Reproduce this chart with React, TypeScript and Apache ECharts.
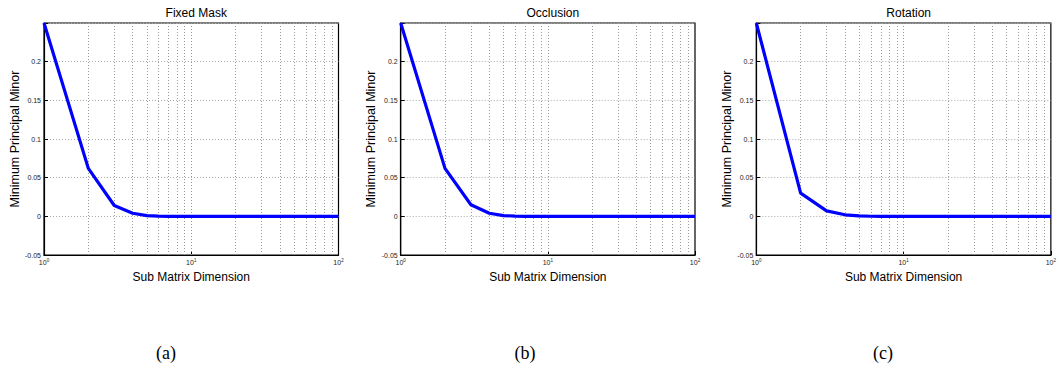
import React, { useEffect, useRef } from "react";
import * as echarts from "echarts";

const titles = ["Fixed Mask", "Occlusion", "Rotation"];
const captions = ["(a)", "(b)", "(c)"];
const xValues = [1, 2, 3, 4, 5, 6, 7, 8, 9, 10, 15, 20, 30, 40, 50, 60, 70, 80, 90, 100];
const fixedMask = [0.25, 0.062, 0.014, 0.004, 0.001, 0.0002, 0, 0, 0, 0, 0, 0, 0, 0, 0, 0, 0, 0, 0, 0];
const occlusion = [0.25, 0.062, 0.015, 0.004, 0.001, 0.0003, 0, 0, 0, 0, 0, 0, 0, 0, 0, 0, 0, 0, 0, 0];
const rotation = [0.25, 0.030, 0.007, 0.002, 0.0005, 0.0001, 0, 0, 0, 0, 0, 0, 0, 0, 0, 0, 0, 0, 0, 0];
const minorGridX = [2, 3, 4, 5, 6, 7, 8, 9, 10, 20, 30, 40, 50, 60, 70, 80, 90];
const yMin = -0.05;
const yMax = 0.25;
const yStep = 0.05;

const gridPos = [
  { left: 44, width: 294.5 },
  { left: 400.7, width: 294.3 },
  { left: 756.3, width: 294.7 },
];
const captionX = [166, 525, 883];

export default function App() {
  const ref = useRef<HTMLDivElement>(null);
  useEffect(() => {
    if (!ref.current) return;
    const chart = echarts.init(ref.current, undefined, { renderer: "svg" });
    const seriesData = [fixedMask, occlusion, rotation];
    const font = "'Liberation Sans', Arial, sans-serif";
    const option: any = {
      animation: false,
      backgroundColor: "#ffffff",
      title: titles.map((t, i) => ({
        text: t,
        left: gridPos[i].left + gridPos[i].width / 2,
        top: 2,
        textAlign: "center",
        textStyle: { fontFamily: font, fontSize: 12, fontWeight: "normal", color: "#000" },
      })),
      grid: gridPos.map((g) => ({
        left: g.left,
        width: g.width,
        top: 23,
        height: 232,
        show: true,
        borderColor: "#000",
        borderWidth: 1.2,
        backgroundColor: "transparent",
      })),
      xAxis: gridPos.map((_, i) => ({
        type: "log",
        logBase: 10,
        gridIndex: i,
        min: 1,
        max: 100,
        name: "Sub Matrix Dimension",
        nameLocation: "middle",
        nameGap: 8,
        nameTextStyle: { fontFamily: font, fontSize: 12, color: "#000" },
        axisLine: { show: true, onZero: false, lineStyle: { color: "#000", width: 1.2 } },
        axisTick: { show: true, inside: true, length: 4, lineStyle: { color: "#000" } },
        splitLine: { show: false },
        axisLabel: {
          margin: 3,
          formatter: (v: number) => `{b|10}{s|${Math.round(Math.log10(v))}}`,
          rich: {
            b: { fontFamily: font, fontSize: 7, color: "#222" },
            s: { fontFamily: font, fontSize: 4.5, color: "#222", verticalAlign: "top", padding: [0, 0, 4, 0] },
          },
        },
      })),
      yAxis: gridPos.map((_, i) => ({
        type: "value",
        gridIndex: i,
        min: yMin,
        max: yMax,
        interval: yStep,
        name: "Minimum Principal Minor",
        nameLocation: "middle",
        nameGap: 22,
        nameTextStyle: { fontFamily: font, fontSize: 12.5, color: "#000" },
        axisLine: { show: true, onZero: false, lineStyle: { color: "#000", width: 1.2 } },
        axisTick: { show: true, inside: true, length: 4, lineStyle: { color: "#000" } },
        splitLine: { show: true, lineStyle: { color: "#aaaaaa", type: [1, 2], width: 1 } },
        axisLabel: {
          margin: 3,
          fontFamily: font,
          fontSize: 7,
          color: "#222",
          formatter: (v: number) => {
            if (Math.abs(v - yMax) < 1e-9) return "";
            const r = Math.round(v * 100) / 100;
            return String(r);
          },
        },
      })),
      series: seriesData.map((d, i) => ({
        type: "line",
        xAxisIndex: i,
        yAxisIndex: i,
        data: xValues.map((x, k) => [x, d[k]]),
        showSymbol: false,
        symbol: "none",
        lineStyle: { color: "#0000ff", width: 3.2 },
        z: 5,
        markLine: {
          silent: true,
          symbol: "none",
          label: { show: false },
          lineStyle: { color: "#999999", type: [1, 2], width: 1 },
          data: minorGridX.map((x) => ({ xAxis: x })),
          z: 1,
        },
      })),
      graphic: captions.map((c, i) => ({
        type: "text",
        x: captionX[i],
        y: 353,
        style: {
          text: c,
          font: "18px 'Liberation Serif', 'Times New Roman', serif",
          fill: "#000",
          textAlign: "center",
          textVerticalAlign: "middle",
        },
      })),
    };
    chart.setOption(option);
    return () => chart.dispose();
  }, []);
  return (
    <div
      ref={ref}
      style={{ position: "fixed", left: 0, top: 0, width: 1059, height: 372, background: "#fff" }}
    />
  );
}
